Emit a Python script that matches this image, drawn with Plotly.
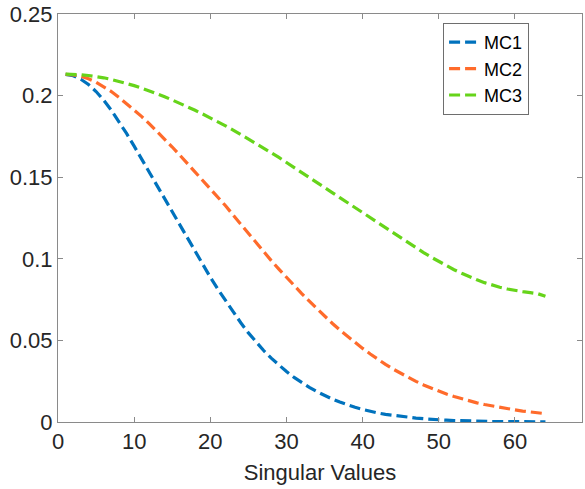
import plotly.graph_objects as go

x_vals = list(range(1, 65))

mc1 = [0.2130, 0.2122, 0.2100, 0.2068, 0.2025, 0.1972, 0.1910, 0.1842, 0.1768, 0.1690,
       0.1610, 0.1530, 0.1450, 0.1370, 0.1288, 0.1206, 0.1124, 0.1043, 0.0964, 0.0887,
       0.0813, 0.0742, 0.0675, 0.0608, 0.0546, 0.0490, 0.0438, 0.0391, 0.0348, 0.0309,
       0.0273, 0.0241, 0.0212, 0.0186, 0.0162, 0.0141, 0.0122, 0.0105, 0.0090, 0.0077,
       0.0065, 0.0055, 0.0047, 0.0040, 0.0034, 0.0028, 0.0024, 0.0020, 0.0016, 0.0013,
       0.0011, 0.0009, 0.0007, 0.0006, 0.0005, 0.0004, 0.0003, 0.0003, 0.0002, 0.0002,
       0.0001, 0.0001, 0.0001, 0.0001]

mc2 = [0.2130, 0.2127, 0.2118, 0.2103, 0.2082, 0.2056, 0.2025, 0.1989, 0.1951, 0.1912,
       0.1871, 0.1827, 0.1781, 0.1733, 0.1685, 0.1635, 0.1584, 0.1533, 0.1480, 0.1428,
       0.1376, 0.1325, 0.1268, 0.1211, 0.1155, 0.1098, 0.1043, 0.0989, 0.0937, 0.0885,
       0.0835, 0.0787, 0.0740, 0.0694, 0.0649, 0.0605, 0.0564, 0.0525, 0.0487, 0.0451,
       0.0417, 0.0384, 0.0353, 0.0324, 0.0298, 0.0272, 0.0249, 0.0227, 0.0207, 0.0188,
       0.0171, 0.0156, 0.0142, 0.0129, 0.0117, 0.0107, 0.0098, 0.0089, 0.0081, 0.0074,
       0.0067, 0.0061, 0.0056, 0.0051]

mc3 = [0.2132, 0.2131, 0.2128, 0.2123, 0.2117, 0.2109, 0.2099, 0.2088, 0.2075, 0.2061,
       0.2046, 0.2030, 0.2012, 0.1993, 0.1973, 0.1953, 0.1932, 0.1910, 0.1887, 0.1864,
       0.1840, 0.1815, 0.1789, 0.1762, 0.1735, 0.1707, 0.1679, 0.1650, 0.1621, 0.1591,
       0.1561, 0.1530, 0.1499, 0.1468, 0.1437, 0.1406, 0.1375, 0.1344, 0.1313, 0.1282,
       0.1251, 0.1220, 0.1189, 0.1158, 0.1127, 0.1097, 0.1067, 0.1038, 0.1010, 0.0983,
       0.0957, 0.0933, 0.0911, 0.0890, 0.0871, 0.0854, 0.0839, 0.0826, 0.0815, 0.0806,
       0.0799, 0.0793, 0.0786, 0.0770]

series_names = ["MC1", "MC2", "MC3"]
series_colors = ["#0072BD", "#FF6B2B", "#66D41A"]
x_ticks = [0, 10, 20, 30, 40, 50, 60]
y_ticks = [0, 0.05, 0.1, 0.15, 0.2, 0.25]
y_tick_text = ["0", "0.05", "0.1", "0.15", "0.2", "0.25"]

FONT = "Liberation Sans, Arial, Helvetica, sans-serif"
TXT = "#262626"
AX = "#8a8a8a"

fig = go.Figure()
for name, ys, col in zip(series_names, [mc1, mc2, mc3], series_colors):
    fig.add_trace(go.Scatter(
        x=x_vals, y=ys, mode="lines", name=name,
        line=dict(color=col, width=3.2, dash="11px,5px"),
    ))

fig.update_layout(
    width=585, height=489,
    margin=dict(l=58, r=2, t=10, b=67),
    paper_bgcolor="white", plot_bgcolor="white",
    font=dict(family=FONT, color=TXT, size=22),
    showlegend=True,
    legend=dict(
        x=0.899, y=0.978, xanchor="right", yanchor="top",
        bgcolor="white", bordercolor="#6e6e6e", borderwidth=1,
        font=dict(family=FONT, size=18, color="#000000"),
        itemwidth=30, tracegroupgap=0,
    ),
)
fig.update_xaxes(
    range=[0, 68.8], tickvals=x_ticks, ticktext=[str(t) for t in x_ticks],
    ticks="inside", ticklen=5, tickcolor=AX, showline=True, linecolor=AX,
    linewidth=1, mirror="ticks", showgrid=False, zeroline=False,
    tickfont=dict(size=22, color=TXT),
    title=dict(text="Singular Values", font=dict(size=22, color=TXT), standoff=11),
)
fig.update_yaxes(
    range=[0, 0.25], tickvals=y_ticks, ticktext=y_tick_text,
    ticks="inside", ticklen=5, tickcolor=AX, showline=True, linecolor=AX,
    linewidth=1, mirror="ticks", showgrid=False, zeroline=False,
    tickfont=dict(size=22, color=TXT), ticklabeloverflow="allow",
)

fig.write_html("out.html", config={"displayModeBar": False})
